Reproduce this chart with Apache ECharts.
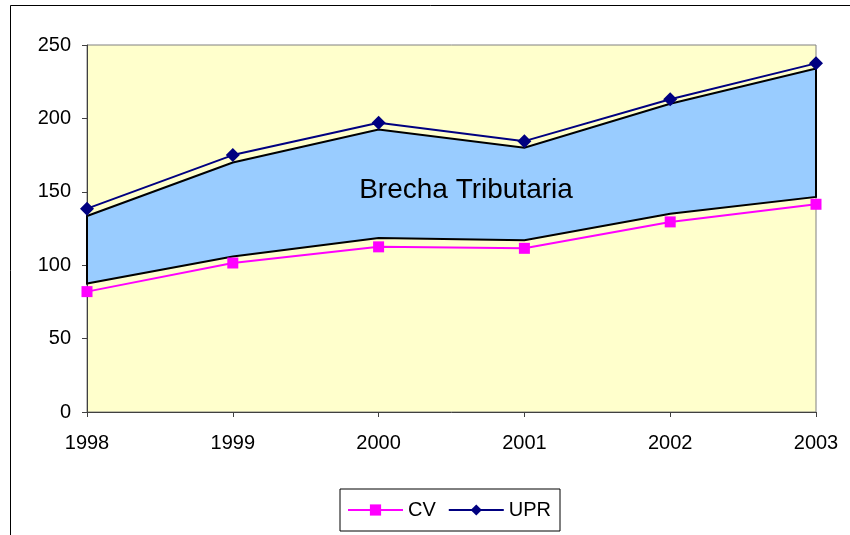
<!DOCTYPE html>
<html>
<head>
<meta charset="utf-8">
<title>Brecha Tributaria</title>
<script src="https://cdn.jsdelivr.net/npm/echarts@6/dist/echarts.min.js"></script>
<style>
  html, body { margin: 0; padding: 0; background: #fff; }
  #chart { width: 850px; height: 535px; }
</style>
</head>
<body>
<div id="chart"></div>
<script>
// data
var years = ['1998', '1999', '2000', '2001', '2002', '2003'];
var cv = [82, 101.5, 112.5, 111.5, 129.5, 141.5];
var upr = [138.5, 175, 197, 184.5, 213, 237.5];
// the shaded band (sits a little inside the two lines)
var bandLow = [87.5, 106, 118.5, 117, 135, 146.5];
var bandHigh = [133.5, 170, 192.5, 180, 210, 234];
var yTicks = [0, 50, 100, 150, 200, 250];

var myChart = echarts.init(document.getElementById('chart'));

var font = 'Liberation Sans, Arial, sans-serif';

var option = {
    backgroundColor: '#fff',
    animation: false,
    grid: {
        left: 87, right: 34, top: 45, bottom: 123,
        show: true,
        backgroundColor: '#FFFFCC',
        borderColor: '#808080',
        borderWidth: 1
    },
    legend: {
        left: 340, top: 489,
        padding: [11, 9, 11, 7],
        itemGap: 12,
        itemWidth: 55,
        itemHeight: 14,
        borderColor: '#000',
        borderWidth: 1,
        textStyle: { fontFamily: font, fontSize: 20, color: '#000' },
        data: ['CV', 'UPR']
    },
    xAxis: {
        type: 'category',
        data: years,
        boundaryGap: false,
        axisLine: { lineStyle: { color: '#404040', width: 1 } },
        axisTick: { show: true, length: 5, lineStyle: { color: '#404040' } },
        axisLabel: { fontFamily: font, fontSize: 20, color: '#000', margin: 21 },
        splitLine: { show: false }
    },
    yAxis: {
        type: 'value',
        min: 0, max: 250, interval: 50,
        axisLine: { show: true, lineStyle: { color: '#404040', width: 1 } },
        axisTick: { show: true, length: 5, lineStyle: { color: '#404040' } },
        axisLabel: {
            fontFamily: font, fontSize: 20, color: '#000', margin: 16,
            formatter: function (v) { return yTicks.indexOf(v) >= 0 ? String(v) : ''; }
        },
        splitLine: { show: false }
    },
    graphic: [
        {
            type: 'rect',
            shape: { x: 10.5, y: 5.5, width: 900, height: 600 },
            style: { fill: 'none', stroke: '#000', lineWidth: 1 },
            silent: true, z: -10
        },
        {
            type: 'text',
            x: 466, y: 190,
            style: {
                text: 'Brecha Tributaria',
                fontFamily: font, fontSize: 28, fill: '#000',
                align: 'center', verticalAlign: 'middle'
            },
            z: 100
        }
    ],
    series: [
        {
            name: 'Brecha',
            type: 'custom',
            data: [0],
            z: 1,
            renderItem: function (params, api) {
                var pts = [];
                for (var i = 0; i < years.length; i++) pts.push(api.coord([i, bandHigh[i]]));
                for (var j = years.length - 1; j >= 0; j--) pts.push(api.coord([j, bandLow[j]]));
                return {
                    type: 'polygon',
                    shape: { points: pts },
                    style: { fill: '#99CCFF', stroke: '#000', lineWidth: 2 }
                };
            }
        },
        {
            name: 'CV',
            type: 'line',
            data: cv,
            z: 5,
            color: '#FF00FF',
            symbol: 'rect',
            symbolSize: 11,
            lineStyle: { color: '#FF00FF', width: 2 },
            itemStyle: { color: '#FF00FF' }
        },
        {
            name: 'UPR',
            type: 'line',
            data: upr,
            z: 5,
            color: '#000080',
            symbol: 'diamond',
            symbolSize: 14,
            lineStyle: { color: '#000080', width: 2 },
            itemStyle: { color: '#000080' }
        }
    ]
};

myChart.setOption(option);
</script>
</body>
</html>
